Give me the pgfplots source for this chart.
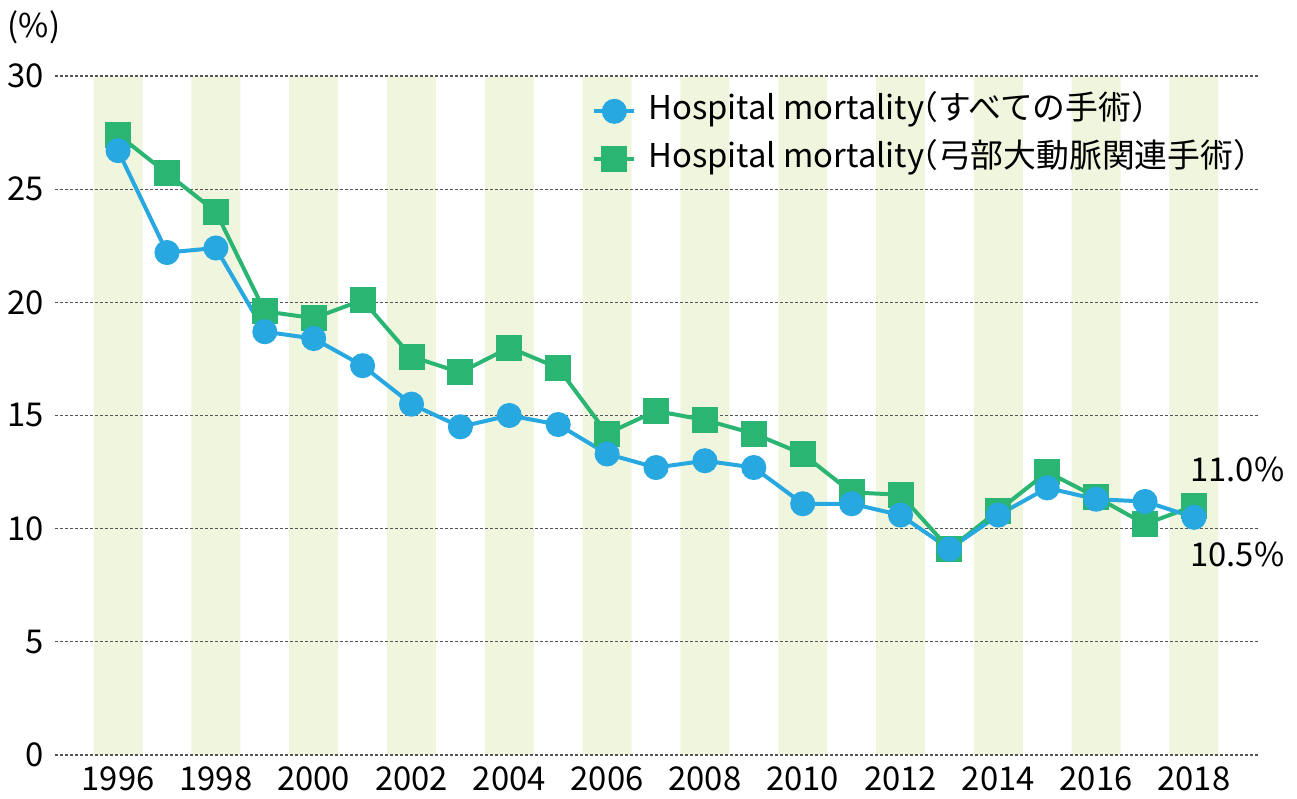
\documentclass[border=0pt]{standalone}
\usepackage{fontspec}
\setmainfont{Noto Sans CJK JP}
\usepackage{pgfplots}
\pgfplotsset{compat=1.18}
\definecolor{cblue}{RGB}{39,168,224}
\definecolor{cgreen}{RGB}{43,181,115}
\definecolor{band}{RGB}{240,245,222}
\definecolor{gridc}{RGB}{85,85,85}
\pgfplotstableread{
year all arch
1996 26.7 27.4
1997 22.2 25.7
1998 22.4 24.0
1999 18.7 19.6
2000 18.4 19.3
2001 17.2 20.1
2002 15.5 17.6
2003 14.5 16.9
2004 15.0 18.0
2005 14.6 17.1
2006 13.3 14.2
2007 12.7 15.2
2008 13.0 14.8
2009 12.7 14.2
2010 11.1 13.3
2011 11.1 11.6
2012 10.6 11.5
2013 9.1 9.1
2014 10.6 10.8
2015 11.8 12.5
2016 11.3 11.4
2017 11.2 10.2
2018 10.5 11.0
}\mortality
\usepackage{pgfplotstable}
\begin{document}
\fontsize{16.4}{19}\selectfont
\begin{tikzpicture}
\begin{axis}[
 set layers,
 name=ax,
 scale only axis, width=601.5pt, height=339.5pt,
 xmin=1994.71, xmax=2019.31, ymin=0, ymax=30,
 axis line style={draw=none},
 major tick length=0pt,
 xtick={1996,1998,...,2018},
 ytick={0,5,...,30},
 scaled x ticks=false,
 x tick label style={/pgf/number format/1000 sep={}},
 /pgf/number format/assume math mode=true,
 ymajorgrids,
 grid style={gridc, line width=0.6pt, dash pattern=on 1.5pt off 1pt},
 clip=false,
 legend cell align=left,
 legend style={draw=none, fill=none, inner sep=0pt,
   at={(axis cs:2005.69,29.34)}, anchor=north west,
   nodes={inner sep=2pt, text height=12pt, text depth=4pt},
   row sep=4pt},
 legend image code/.code={\draw[mark repeat=2,mark phase=2] plot coordinates {(0pt,0pt) (10pt,0pt) (20pt,0pt)};},
]
\addplot[ybar, bar width=1, fill=band, draw=none, on layer=axis background, forget plot]
 coordinates {(1996,30) (1998,30) (2000,30) (2002,30) (2004,30) (2006,30) (2008,30) (2010,30) (2012,30) (2014,30) (2016,30) (2018,30)};
\addplot[cgreen, line width=2pt, mark=square*, mark size=5.5pt, mark options={solid}, forget plot]
 table[x=year, y=arch] {\mortality};
\addplot[cblue, line width=2pt, mark=*, mark size=5.25pt, mark options={solid}]
 table[x=year, y=all] {\mortality};
\addlegendentry{\hspace{4pt}Hospital mortality\hspace{-0.58em}（すべての手術）}
\addlegendimage{cgreen, line width=2pt, mark=square*, mark size=5.5pt}
\addlegendentry{\hspace{4pt}Hospital mortality\hspace{-0.58em}（弓部大動脈関連手術）}
\node[anchor=west, inner sep=0pt] at (axis cs:2017.92,12.6) {11.0\%};
\node[anchor=west, inner sep=0pt] at (axis cs:2017.92,8.84) {10.5\%};
\node[inner sep=0pt] at (axis cs:1994.28,32.17) {(\%)};
\coordinate (bl) at (rel axis cs:0,0);
\coordinate (tr) at (rel axis cs:1,1);
\end{axis}
\pgfresetboundingbox
\path ([xshift=-27.5pt,yshift=-22pt]bl) rectangle ([xshift=19.5pt,yshift=38pt]tr);
\end{tikzpicture}
\end{document}
